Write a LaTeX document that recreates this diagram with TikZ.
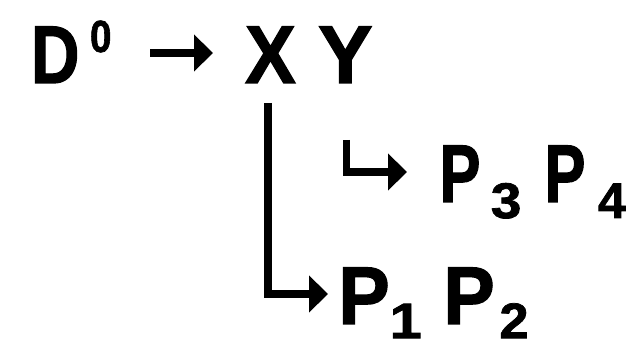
\documentclass[tikz,border=0pt]{standalone}
\usepackage{fontspec}
\newfontfamily\heavy{Liberation Sans Bold}[FakeBold=1.5]
\usetikzlibrary{arrows.meta}
\begin{document}
\begin{tikzpicture}[x=1pt,y=1pt,
  lbl/.style={inner sep=0pt, outer sep=0pt, anchor=base west, font=\fontsize{82}{82}\selectfont\heavy},
  idx/.style={inner sep=0pt, outer sep=0pt, anchor=base west, font=\fontsize{50}{50}\selectfont\heavy},
  conn/.style={line width=8pt, -{Triangle[length=19pt,width=36pt]}}]
\useasboundingbox (0,0) rectangle (640,339);
\node[lbl] (D) at (31,256) {\scalebox{0.82}[1]{D}};
\node[idx, font=\fontsize{45}{45}\selectfont\heavy] (D0) at (90,287) {\scalebox{0.86}[1]{0}};
\node[lbl] (X) at (245,256) {\scalebox{0.93}[1]{X}};
\node[lbl] (Y) at (318,256) {Y};
\node[lbl] (P3) at (439.5,137) {\scalebox{0.75}[1]{P}};
\node[idx] (s3) at (490.8,121) {\scalebox{1.1}[1]{3}};
\node[lbl] (P4) at (544.5,137) {\scalebox{0.75}[1]{P}};
\node[idx] (s4) at (598,121) {\scalebox{1.0}[1]{4}};
\node[lbl] (P1) at (338.4,15) {\scalebox{0.94}[1]{P}};
\node[idx] (s1) at (389.7,0.8) {\scalebox{1.15}[1]{1}};
\node[lbl] (P2) at (443.4,15) {\scalebox{0.94}[1]{P}};
\node[idx] (s2) at (499.4,0.8) {\scalebox{1.05}[1]{2}};
\draw[conn, line width=8.5pt] ([shift={(38.5,-1)}]D0.base east) -- ([shift={(-32,30)}]X.base west);
\draw[conn] ([shift={(-2.5,-20)}]X.base) |- ([shift={(-10.4,30)}]P1.base west);
\draw[conn, line width=7.5pt] ([shift={(1.2,-57)}]Y.base) |- ([shift={(-32.5,30)}]P3.base west);
\end{tikzpicture}
\end{document}
